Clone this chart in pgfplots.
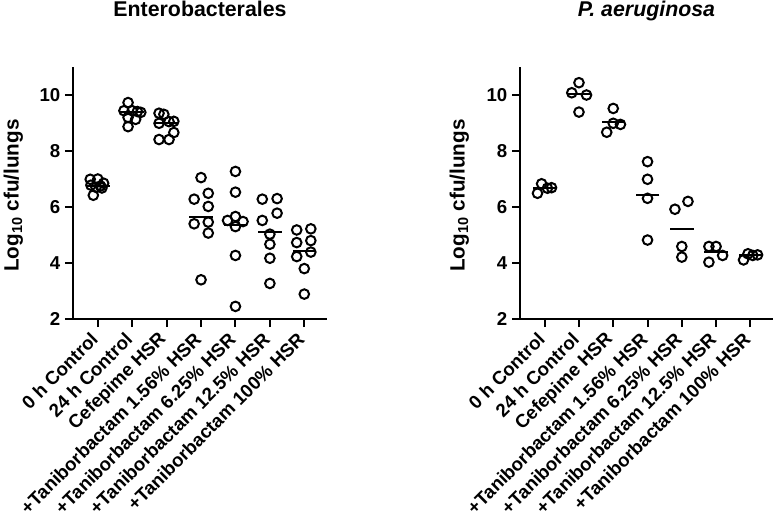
\documentclass[border=0pt]{standalone}
\usepackage{fontspec}
\setmainfont{Liberation Sans}
\usepackage{pgfplots}
\pgfplotsset{compat=1.18}
\begin{document}
\begin{tikzpicture}
\useasboundingbox (0,0) rectangle (580.5pt,388.5pt);
\pgfplotsset{
  myax/.style={
    scale only axis,
    anchor=south west,
    height=189pt,
    xmin=-0.72, xmax=6.66,
    ymin=2, ymax=11,
    ytick={2,4,6,8,10},
    xtick={0,1,2,3,4,5,6},
    xticklabels={0 h Control,24 h Control,Cefepime HSR,+Taniborbactam 1.56\% HSR,+Taniborbactam 6.25\% HSR,+Taniborbactam 12.5\% HSR,+Taniborbactam 100\% HSR},
    axis lines*=left,
    axis line style={line width=1.5pt,-},
    tick style={line width=1.5pt,black},
    major tick length=6pt,
    tick align=outside,
    /pgf/number format/assume math mode=true,
    tick label style={font=\fontsize{14}{16}\selectfont\bfseries},
    x tick label style={yshift=-4.5pt,rotate=45,anchor=east},
    ylabel={Log\textsubscript{10} cfu/lungs},
    ylabel style={font=\fontsize{15.5}{18}\selectfont\bfseries, at={(axis description cs:-0.235,0.49)}, anchor=center},
    title style={font=\fontsize{16}{19}\selectfont\bfseries, at={(axis description cs:0.5,1)}, anchor=base, yshift=32pt},
    clip=false,
  },
  pts/.style={only marks, mark=o, mark size=3.6pt, black, mark options={line width=1.5pt}},
  med/.style={only marks, mark=-, mark size=8.8pt, black, mark options={line width=1.5pt}},
}
\begin{axis}[myax, at={(54.75pt,149.25pt)}, width=190.5pt, title={Enterobacterales}]
\addplot[pts] coordinates {
(-0.22,6.99) (0.0,7.0) (0.17,6.85) (0.08,6.75) (-0.05,6.7) (0.12,6.68) (-0.2,6.78) (-0.13,6.42)
(0.88,9.73) (0.76,9.44) (1.0,9.44) (1.15,9.41) (1.25,9.38) (0.88,9.2) (1.1,9.13) (0.88,8.87)
(1.78,9.35) (1.92,9.31) (1.78,8.99) (2.07,9.05) (2.21,9.06) (2.21,8.66) (1.78,8.41) (2.07,8.41)
(3.0,7.05) (2.8,6.28) (3.21,6.49) (3.21,6.02) (2.8,5.4) (3.21,5.46) (3.21,5.07) (3.0,3.40)
(4.0,7.27) (4.0,6.53) (3.77,5.52) (4.0,5.66) (4.22,5.48) (4.0,5.30) (4.0,4.27) (4.0,2.45)
(4.78,6.28) (5.21,6.30) (5.21,5.78) (4.78,5.52) (5.0,5.03) (5.0,4.67) (5.0,4.17) (5.0,3.27)
(5.78,5.18) (6.19,5.22) (5.78,4.73) (6.19,4.80) (6.19,4.39) (5.78,4.23) (6.0,3.80) (6.0,2.89)
};
\addplot[med] coordinates {(0,6.75) (1,9.4) (2,9.0) (3,5.66) (4,5.34) (5,5.12) (6,4.44)};
\end{axis}
\begin{axis}[myax, at={(390pt,149.25pt)}, width=189.75pt, title={\itshape P. aeruginosa},
  ylabel style={at={(axis description cs:-0.24,0.49)}}]
\addplot[pts] coordinates {
(-0.21,6.49) (-0.09,6.83) (0.08,6.67) (0.2,6.69)
(0.79,10.08) (1.0,10.44) (1.22,10.0) (1.0,9.39)
(2.0,9.52) (1.81,8.67) (2.0,8.99) (2.21,8.95)
(3.0,7.62) (3.0,6.99) (3.0,6.31) (3.0,4.82)
(3.8,5.92) (4.18,6.20) (4.0,4.59) (4.0,4.21)
(4.79,4.59) (5.0,4.59) (5.19,4.27) (4.79,4.03)
(5.8,4.11) (5.93,4.33) (6.07,4.27) (6.21,4.29)
};
\addplot[med] coordinates {(0,6.68) (1,10.04) (2,9.05) (3,6.43) (4,5.22) (5,4.38) (6,4.3)};
\end{axis}
\end{tikzpicture}
\end{document}
